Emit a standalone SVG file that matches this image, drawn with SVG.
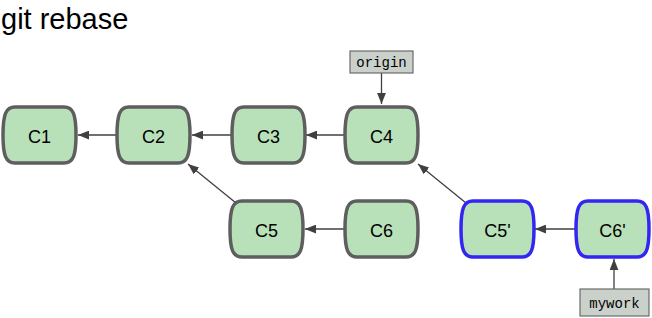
<svg xmlns="http://www.w3.org/2000/svg" width="652" height="318" viewBox="0 0 652 318">
<defs>
<style>
.title{font-family:"Liberation Sans",Arial,sans-serif;font-size:29px;fill:#000}
.node path{fill:#b9e1b9;stroke:#5e5e5e;stroke-width:3.5}
.node.re path{stroke:#3326f2}
.node text{font-family:"Liberation Sans",Arial,sans-serif;font-size:18px;fill:#000;text-anchor:middle}
.ref rect{fill:#c9d1ca;stroke:#6c6c6c;stroke-width:1.2}
.ref text{font-family:"Liberation Mono","DejaVu Sans Mono",monospace;font-size:14px;fill:#000;text-anchor:middle}
.edges line{stroke:#404040;stroke-width:1.3;marker-end:url(#ah)}
</style>
<marker id="ah" viewBox="0 0 10 8" refX="10" refY="4" markerWidth="11" markerHeight="9" markerUnits="userSpaceOnUse" orient="auto">
<path d="M0,0 L10,4 L0,8 z" fill="#404040"/>
</marker>
</defs>
<rect width="652" height="318" fill="#fff"/>
<text class="title" x="1" y="29">git rebase</text>

<g class="edges">
<line x1="117" y1="135" x2="78" y2="135"/>
<line x1="231" y1="135" x2="192" y2="135"/>
<line x1="345" y1="135" x2="306" y2="135"/>
<line x1="236" y1="203" x2="188" y2="164"/>
<line x1="345" y1="229" x2="305" y2="229"/>
<line x1="466" y1="203" x2="418" y2="164"/>
<line x1="576" y1="229" x2="535" y2="229"/>
<line x1="381.5" y1="73" x2="381.5" y2="104"/>
<line x1="614" y1="289" x2="614" y2="259"/>
</g>

<g id="C1" class="node"><path d="M15,107 H64 C73,107 76,114 76,135 C76,156 73,163 64,163 H15 C6,163 3,156 3,135 C3,114 6,107 15,107 Z"/><text x="39.5" y="142.5">C1</text></g>
<g id="C2" class="node"><path d="M129,107 H178 C187,107 190,114 190,135 C190,156 187,163 178,163 H129 C120,163 117,156 117,135 C117,114 120,107 129,107 Z"/><text x="153.5" y="142.5">C2</text></g>
<g id="C3" class="node"><path d="M244,107 H293 C302,107 305,114 305,135 C305,156 302,163 293,163 H244 C235,163 232,156 232,135 C232,114 235,107 244,107 Z"/><text x="268.5" y="142.5">C3</text></g>
<g id="C4" class="node"><path d="M357,107 H406 C415,107 418,114 418,135 C418,156 415,163 406,163 H357 C348,163 345,156 345,135 C345,114 348,107 357,107 Z"/><text x="381.5" y="142.5">C4</text></g>
<g id="C5" class="node"><path d="M242,201 H291 C300,201 303,208 303,229 C303,250 300,257 291,257 H242 C233,257 230,250 230,229 C230,208 233,201 242,201 Z"/><text x="266.5" y="236.5">C5</text></g>
<g id="C6" class="node"><path d="M357,201 H406 C415,201 418,208 418,229 C418,250 415,257 406,257 H357 C348,257 345,250 345,229 C345,208 348,201 357,201 Z"/><text x="381.5" y="236.5">C6</text></g>
<g id="C5p" class="node re"><path d="M473,201 H522 C531,201 534,208 534,229 C534,250 531,257 522,257 H473 C464,257 461,250 461,229 C461,208 464,201 473,201 Z"/><text x="497.5" y="236.5">C5'</text></g>
<g id="C6p" class="node re"><path d="M588,201 H637 C646,201 649,208 649,229 C649,250 646,257 637,257 H588 C579,257 576,250 576,229 C576,208 579,201 588,201 Z"/><text x="612.5" y="236.5">C6'</text></g>

<g id="origin" class="ref"><rect x="350" y="51" width="63" height="22"/><text x="381.5" y="66.5">origin</text></g>
<g id="mywork" class="ref"><rect x="580" y="289" width="69" height="27"/><text x="614.5" y="308">mywork</text></g>
</svg>
